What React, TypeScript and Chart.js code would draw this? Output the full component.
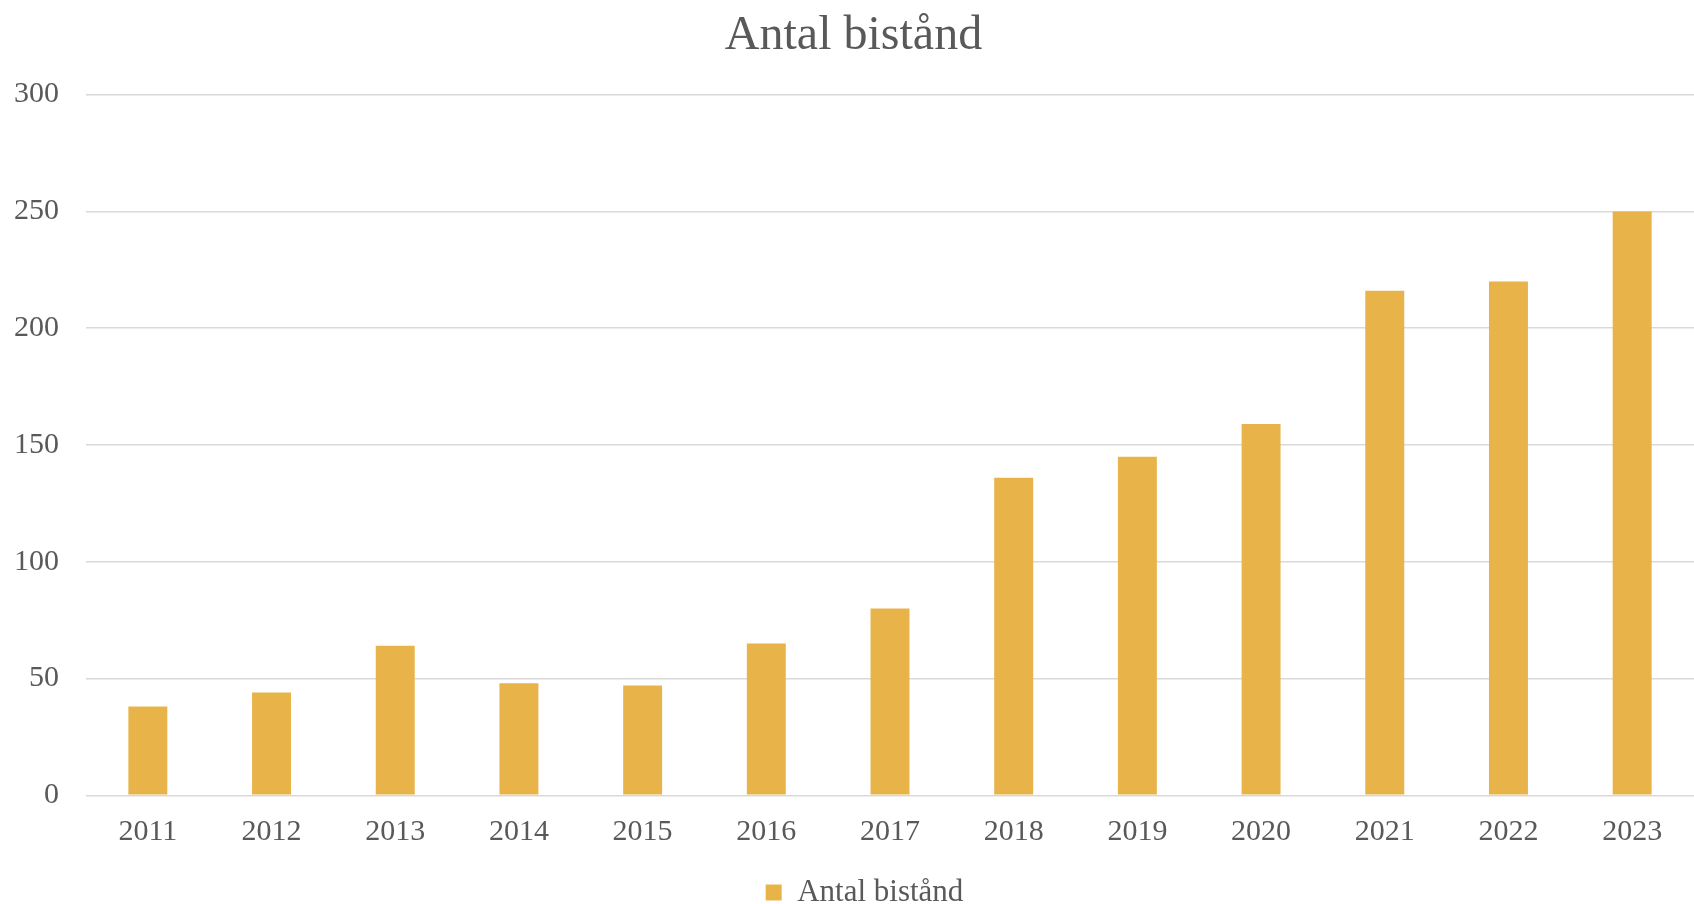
import React, { useEffect, useRef } from "react";
import { Chart, registerables } from "chart.js";

Chart.register(...registerables);

const categories = ["2011", "2012", "2013", "2014", "2015", "2016", "2017", "2018", "2019", "2020", "2021", "2022", "2023"];
const values = [38, 44, 64, 48, 47, 65, 80, 136, 145, 159, 216, 220, 250];
const seriesLabel = "Antal bistånd";
const titleText = "Antal bistånd";
const yTicks = [0, 50, 100, 150, 200, 250, 300];

const FONT = "'Liberation Serif', 'DejaVu Serif', serif";

const legendShift = {
  id: "legendShift",
  afterLayout(chart: any) {
    const l = chart.legend;
    if (l) {
      l.left += 11;
      l.right += 11;
    }
  },
};

export default function App() {
  const ref = useRef<HTMLCanvasElement | null>(null);
  useEffect(() => {
    document.body.style.margin = "0";
    if (!ref.current) return;
    const chart = new Chart(ref.current, {
      type: "bar",
      data: {
        labels: categories,
        datasets: [
          {
            label: seriesLabel,
            data: values,
            backgroundColor: "#E8B44A",
            borderWidth: 0,
            barPercentage: 1,
            categoryPercentage: 0.315,
          },
        ],
      },
      plugins: [legendShift],
      options: {
        animation: false,
        responsive: false,
        maintainAspectRatio: false,
        layout: { padding: { left: 13, right: 0, top: 7.5, bottom: -14 } },
        plugins: {
          title: {
            display: true,
            text: titleText,
            color: "#595959",
            font: { family: FONT, size: 48, weight: "normal" },
            padding: { top: 0, bottom: 29.5 },
          },
          legend: {
            display: true,
            position: "bottom",
            labels: {
              color: "#595959",
              font: { family: FONT, size: 31 },
              boxWidth: 16,
              boxHeight: 16,
              padding: 10,
            },
          },
          tooltip: { enabled: false },
        },
        scales: {
          x: {
            grid: { display: false, drawTicks: false },
            border: { display: false },
            ticks: {
              color: "#595959",
              font: { family: FONT, size: 30 },
              padding: 19,
            },
            afterFit: (axis: any) => {
              axis.height = axis.height - 2.3;
            },
          },
          y: {
            min: 0,
            max: 300,
            afterBuildTicks: (axis: any) => {
              axis.ticks = yTicks.map((v) => ({ value: v }));
            },
            grid: { color: "#d9d9d9", lineWidth: 1.5, drawTicks: false },
            border: { display: false },
            ticks: {
              color: "#595959",
              font: { family: FONT, size: 30 },
              padding: 27,
            },
            afterFit: (axis: any) => {
              axis.width = 73;
            },
          },
        },
      },
    });
    return () => chart.destroy();
  }, []);
  return (
    <div style={{ position: "absolute", left: 0, top: 0, width: 1694, height: 904, background: "#fff", overflow: "hidden" }}>
      <canvas ref={ref} width={1694} height={904} style={{ width: 1694, height: 904, display: "block" }} />
    </div>
  );
}
